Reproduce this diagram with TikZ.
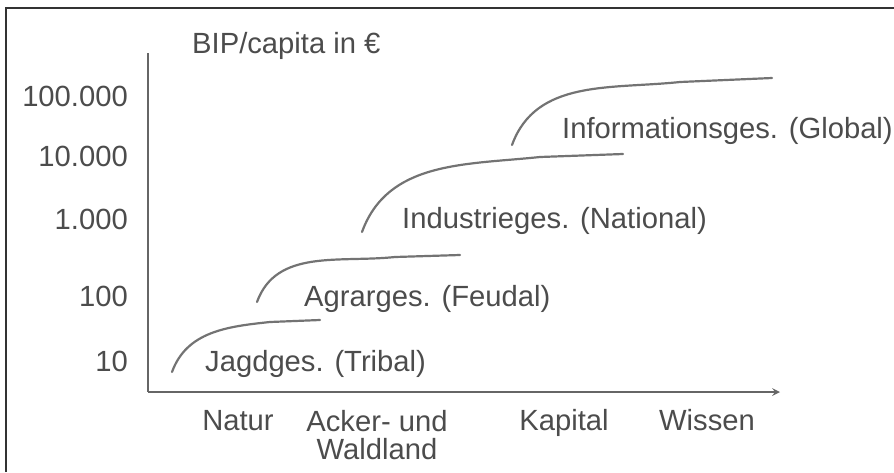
\documentclass[tikz,border=0pt]{standalone}
\usepackage{fontspec}
\setmainfont{Liberation Sans}
\usetikzlibrary{arrows, positioning}
\tikzstyle{label} = [font=\fontsize{29.2}{31}\selectfont, text=black!70, inner sep=0pt]
\tikzstyle{tick} = [label, anchor=base east]
\tikzstyle{era} = [label, anchor=base west]
\tikzstyle{factor} = [label, anchor=base, align=center]
\tikzstyle{axis} = [draw=black!60, line width=2.4pt]
\tikzstyle{curve} = [draw=black!55, line width=2.2pt, line cap=round]
\tikzstyle{arrow} = [axis,->,>=stealth]

\begin{document}
\begin{tikzpicture}[x=1pt, y=-1pt]
\useasboundingbox (0,0) rectangle (894,472);
% frame
\draw [draw=black!80, line width=2.5pt] (6,472) -- (6,8) -- (894,8);
% axes
\coordinate (origin) at (148,392);
\coordinate (ytop) at (148,53);
\coordinate (xend) at (780,392);
\draw [axis] (ytop) -- (origin);
\draw [arrow] (origin) -- (xend);
\node (title) [era] at (192,53) {BIP/capita in €};
% ticks
\node (t100000) [tick] at (128,106) {100.000};
\node (t10000) [tick] at (128,166) {10.000};
\node (t1000) [tick] at (128,229) {1.000};
\node (t100) [tick] at (128,306) {100};
\node (t10) [tick] at (128,371) {10};
% production factors
\node (natur) [factor] at (238,430) {Natur};
\node (acker) [factor] at (377,459) {Acker- und\\[-3pt]Waldland};
\node (kapital) [factor] at (564,430) {Kapital};
\node (wissen) [factor] at (707,430) {Wissen};
% curves
\coordinate (c1s) at (172,372);
\coordinate (c1m) at (270,322);
\coordinate (c1e) at (320,320);
\coordinate (c2s) at (257,302);
\coordinate (c2m) at (395,257);
\coordinate (c2e) at (460,255);
\coordinate (c3s) at (362,232);
\coordinate (c3m) at (540,157);
\coordinate (c3e) at (623,154);
\coordinate (c4s) at (512,145);
\coordinate (c4m) at (680,82);
\coordinate (c4e) at (772,78);
\draw [curve] (c1s) to[out=70,in=186] (c1m) -- (c1e);
\draw [curve] (c2s) to[out=70,in=186] (c2m) -- (c2e);
\draw [curve] (c3s) to[out=70,in=186] (c3m) -- (c3e);
\draw [curve] (c4s) to[out=70,in=186] (c4m) -- (c4e);
% eras
\node (tribal) [era] at (205,371) {Jagdges. (Tribal)};
\node (feudal) [era] at (304,306) {Agrarges. (Feudal)};
\node (national) [era] at (402,228) {Industrieges. (National)};
\node (global) [era] at (562,138) {Informationsges. (Global)};
\end{tikzpicture}
\end{document}
